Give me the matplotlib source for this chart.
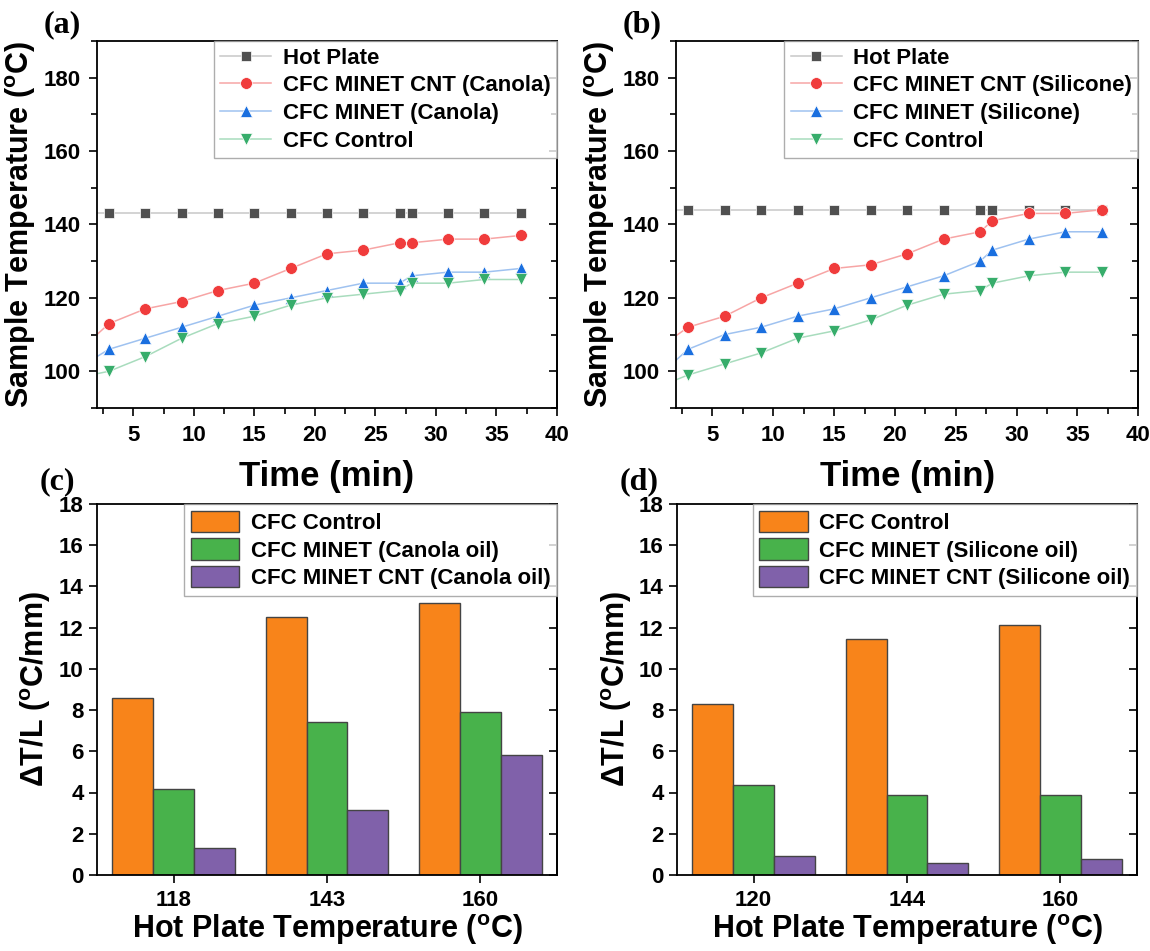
import matplotlib
matplotlib.use("Agg")
import matplotlib.pyplot as plt
from matplotlib.ticker import MultipleLocator
import numpy as np

plt.rcParams["font.family"] = ["Liberation Sans", "DejaVu Sans"]
plt.rcParams["font.weight"] = "bold"
plt.rcParams["axes.labelweight"] = "bold"
plt.rcParams["mathtext.fontset"] = "custom"
plt.rcParams["mathtext.rm"] = "Liberation Sans:bold"
plt.rcParams["mathtext.bf"] = "Liberation Sans:bold"

# --- time series (top row) ---
# first point sits at t=0, outside the visible x range
time_min = [0, 3, 6, 9, 12, 15, 18, 21, 24, 27, 28, 31, 34, 37]

hot_canola = [143, 143, 143, 143, 143, 143, 143, 143, 143, 143, 143, 143, 143, 143]
cnt_canola = [104, 113, 117, 119, 122, 124, 128, 132, 133, 135, 135, 136, 136, 137]
minet_canola = [100, 106, 109, 112, 115, 118, 120, 122, 124, 124, 126, 127, 127, 128]
control_canola = [98, 100, 104, 109, 113, 115, 118, 120, 121, 122, 124, 124, 125, 125]

hot_silicone = [144, 144, 144, 144, 144, 144, 144, 144, 144, 144, 144, 144, 144, 144]
cnt_silicone = [105, 112, 115, 120, 124, 128, 129, 132, 136, 138, 141, 143, 143, 144]
minet_silicone = [97, 106, 110, 112, 115, 117, 120, 123, 126, 130, 133, 136, 138, 138]
control_silicone = [95, 99, 102, 105, 109, 111, 114, 118, 121, 122, 124, 126, 127, 127]

time_ticks = [5, 10, 15, 20, 25, 30, 35, 40]
temp_ticks = [100, 120, 140, 160, 180]

# --- gradient bars (bottom row) ---
plate_canola = ["118", "143", "160"]
bar_control_canola = [8.57, 12.54, 13.19]
bar_minet_canola = [4.18, 7.41, 7.91]
bar_cnt_canola = [1.33, 3.13, 5.83]

plate_silicone = ["120", "144", "160"]
bar_control_silicone = [8.28, 11.46, 12.11]
bar_minet_silicone = [4.36, 3.86, 3.86]
bar_cnt_silicone = [0.92, 0.58, 0.75]

grad_ticks = [0, 2, 4, 6, 8, 10, 12, 14, 16, 18]

DEG = r"$^{\mathbf{o}}$"
TICK_FONT = dict(fontsize=16, fontweight="bold", family="Liberation Sans")

# (marker colour, line colour, marker, size)
LINE_STYLES = [
    ("#505050", "#c8c8c8", "s", 7),
    ("#f03c3c", "#f7a5a5", "o", 8.5),
    ("#1a6fdf", "#9fc2f0", "^", 9),
    ("#37ad6b", "#a8dcbd", "v", 9),
]
BAR_COLORS = ["#f8841a", "#48b24b", "#8061aa"]


def mirror_right(ax, major, minor=None):
    # right-hand ticks pointing inward, no labels
    sec = ax.secondary_yaxis("right")
    sec.yaxis.set_major_locator(MultipleLocator(major))
    if minor:
        sec.yaxis.set_minor_locator(MultipleLocator(minor))
    sec.tick_params(which="both", direction="in", labelright=False, width=1.2)
    sec.tick_params(which="major", length=6)
    sec.tick_params(which="minor", length=4)
    sec.spines["right"].set_linewidth(1.3)


def line_panel(ax, series, labels, tag):
    for ys, lab, (mc, lc, mk, ms) in zip(series, labels, LINE_STYLES):
        ax.plot(time_min, ys, color=lc, lw=1.1, marker=mk, ms=ms,
                markerfacecolor=mc, markeredgecolor="white", mew=0.5,
                label=lab)
    ax.set_xticks(time_ticks, [str(t) for t in time_ticks])
    ax.set_yticks(temp_ticks, [str(t) for t in temp_ticks])
    ax.xaxis.set_minor_locator(MultipleLocator(2.5))
    ax.yaxis.set_minor_locator(MultipleLocator(10))
    ax.set_xlim(2, 40)
    ax.set_ylim(90, 190)
    ax.tick_params(which="both", direction="out", width=1.2)
    ax.tick_params(which="major", length=6, pad=6)
    ax.tick_params(which="minor", length=4)
    mirror_right(ax, 20, 10)
    for sp in ax.spines.values():
        sp.set_linewidth(1.3)
    ax.set_xlabel("Time (min)", fontsize=25, labelpad=10)
    ax.set_ylabel("Sample Temperature (" + DEG + "C)", fontsize=22, labelpad=4)
    leg = ax.legend(loc="upper right", fontsize=16, frameon=True,
                    fancybox=False, borderaxespad=0, handlelength=2.3,
                    labelspacing=0.3, borderpad=0.3, handletextpad=0.5)
    leg.get_frame().set_edgecolor("#999999")
    leg.get_frame().set_linewidth(1.0)
    ax.text(-0.115, 1.005, tag, transform=ax.transAxes, fontsize=23,
            family="Liberation Serif", weight="bold", va="bottom")


def bar_panel(ax, cats, groups, labels, tag):
    x = np.arange(len(cats))
    w = 0.8 / 3
    for i, (vals, lab, col) in enumerate(zip(groups, labels, BAR_COLORS)):
        ax.bar(x + (i - 1) * w, vals, w, color=col, edgecolor="#444444",
               linewidth=1.0, label=lab)
    ax.set_xlim(-0.5, 2.5)
    ax.set_ylim(0, 18)
    ax.set_xticks(x, cats)
    ax.set_yticks(grad_ticks, [str(t) for t in grad_ticks])
    ax.tick_params(which="both", direction="out", width=1.2, length=6)
    ax.tick_params(axis="x", pad=5)
    mirror_right(ax, 2)
    for sp in ax.spines.values():
        sp.set_linewidth(1.3)
    ax.set_xlabel("Hot Plate Temperature (" + DEG + "C)", fontsize=22,
                  labelpad=1)
    ax.set_ylabel(r"$\mathbf{\Delta}$T/L (" + DEG + "C/mm)", fontsize=22,
                  labelpad=4)
    leg = ax.legend(loc="upper right", fontsize=16, frameon=True,
                    fancybox=False, borderaxespad=0, handlelength=2.2,
                    handleheight=1.1, labelspacing=0.2, borderpad=0.3,
                    handletextpad=0.5)
    leg.get_frame().set_edgecolor("#999999")
    leg.get_frame().set_linewidth(1.0)
    ax.text(-0.125, 1.02, tag, transform=ax.transAxes, fontsize=23,
            family="Liberation Serif", weight="bold", va="bottom")


fig = plt.figure(figsize=(11.5, 9.51), dpi=100)
ax_a = fig.add_axes([0.0843, 0.571, 0.400, 0.386])
ax_b = fig.add_axes([0.5878, 0.571, 0.402, 0.386])
ax_c = fig.add_axes([0.0843, 0.080, 0.400, 0.390])
ax_d = fig.add_axes([0.5887, 0.080, 0.400, 0.390])

line_panel(ax_a, [hot_canola, cnt_canola, minet_canola, control_canola],
           ["Hot Plate", "CFC MINET CNT (Canola)", "CFC MINET (Canola)",
            "CFC Control"], "(a)")
line_panel(ax_b, [hot_silicone, cnt_silicone, minet_silicone, control_silicone],
           ["Hot Plate", "CFC MINET CNT (Silicone)", "CFC MINET (Silicone)",
            "CFC Control"], "(b)")
bar_panel(ax_c, plate_canola,
          [bar_control_canola, bar_minet_canola, bar_cnt_canola],
          ["CFC Control", "CFC MINET (Canola oil)",
           "CFC MINET CNT (Canola oil)"], "(c)")
bar_panel(ax_d, plate_silicone,
          [bar_control_silicone, bar_minet_silicone, bar_cnt_silicone],
          ["CFC Control", "CFC MINET (Silicone oil)",
           "CFC MINET CNT (Silicone oil)"], "(d)")

# tick labels get rebuilt at draw time, so make them bold afterwards
fig.canvas.draw()
for ax in (ax_a, ax_b, ax_c, ax_d):
    for lab in ax.get_xticklabels() + ax.get_yticklabels():
        lab.set(**TICK_FONT)

fig.savefig("out.png", dpi=100)
plt.close(fig)
